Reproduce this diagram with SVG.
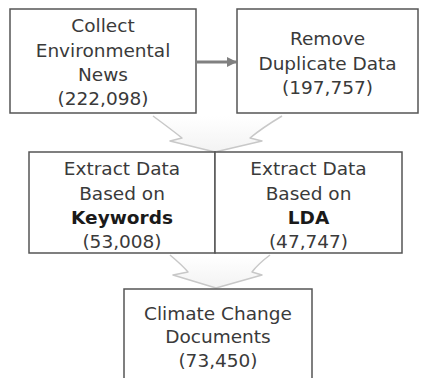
<svg xmlns="http://www.w3.org/2000/svg" width="421" height="378" viewBox="0 0 421 378">
  <defs>
    <style>
      .box { fill: #ffffff; stroke: #555555; stroke-width: 1.5; }
      .label { font-family: "DejaVu Sans", "Noto Sans", sans-serif; font-size: 18.5px; fill: #3a3a3a; text-anchor: middle; }
      .bold { font-weight: bold; fill: #1a1a1a; }
      .chev-fill { fill: url(#chevGrad); stroke: none; }
      .chev-edge { fill: none; stroke: #c8c8c8; stroke-width: 1.5; stroke-linejoin: round; }
      .flow { stroke: #808080; stroke-width: 3; fill: none; }
    </style>
    <linearGradient id="chevGrad" x1="0" y1="0" x2="0" y2="1">
      <stop offset="0" stop-color="#ffffff"/>
      <stop offset="1" stop-color="#f3f3f3"/>
    </linearGradient>
    <marker id="head" markerWidth="10" markerHeight="10" refX="9" refY="5" orient="auto" markerUnits="userSpaceOnUse">
      <path d="M0,0 L10,5 L0,10 Z" fill="#808080"/>
    </marker>
  </defs>

  <rect width="421" height="378" fill="#ffffff"/>

  <g id="connectors">
    <line class="flow" x1="197" y1="62" x2="236" y2="62" marker-end="url(#head)"/>
    <!-- wide chevron from the top row into the extraction row -->
    <path class="chev-fill" d="M153,116 Q172,130 182,138 L170,141 L215,152 L262,141 L250,138 Q262,128 282,116 Z"/>
    <path class="chev-edge" d="M153,116 Q172,130 182,138 L170,141 L215,152 L262,141 L250,138 Q262,128 282,116"/>
    <!-- chevron from the extraction row into the result -->
    <path class="chev-fill" d="M170,255 Q182,265 188,272 L173,275 L216,288 L262,275 L252,272 Q258,264 270,255 Z"/>
    <path class="chev-edge" d="M170,255 Q182,265 188,272 L173,275 L216,288 L262,275 L252,272 Q258,264 270,255"/>
  </g>

  <g id="collect">
    <rect class="box" x="10" y="9" width="186" height="104"/>
    <text class="label" x="103" y="32">Collect</text>
    <text class="label" x="103" y="57">Environmental</text>
    <text class="label" x="103" y="81">News</text>
    <text class="label" x="103" y="105">(222,098)</text>
  </g>

  <g id="dedupe">
    <rect class="box" x="237" y="9" width="181" height="104"/>
    <text class="label" x="327.5" y="45">Remove</text>
    <text class="label" x="327.5" y="70">Duplicate Data</text>
    <text class="label" x="327.5" y="94">(197,757)</text>
  </g>

  <g id="keywords">
    <rect class="box" x="29" y="152" width="186" height="101"/>
    <text class="label" x="122" y="175">Extract Data</text>
    <text class="label" x="122" y="200">Based on</text>
    <text class="label bold" x="122" y="224">Keywords</text>
    <text class="label" x="122" y="248">(53,008)</text>
  </g>

  <g id="lda">
    <rect class="box" x="215" y="152" width="187" height="101"/>
    <text class="label" x="308.5" y="175">Extract Data</text>
    <text class="label" x="308.5" y="200">Based on</text>
    <text class="label bold" x="308.5" y="224">LDA</text>
    <text class="label" x="308.5" y="248">(47,747)</text>
  </g>

  <g id="climate">
    <rect class="box" x="124" y="289" width="188" height="100"/>
    <text class="label" x="218" y="320">Climate Change</text>
    <text class="label" x="218" y="343">Documents</text>
    <text class="label" x="218" y="367">(73,450)</text>
  </g>
</svg>
